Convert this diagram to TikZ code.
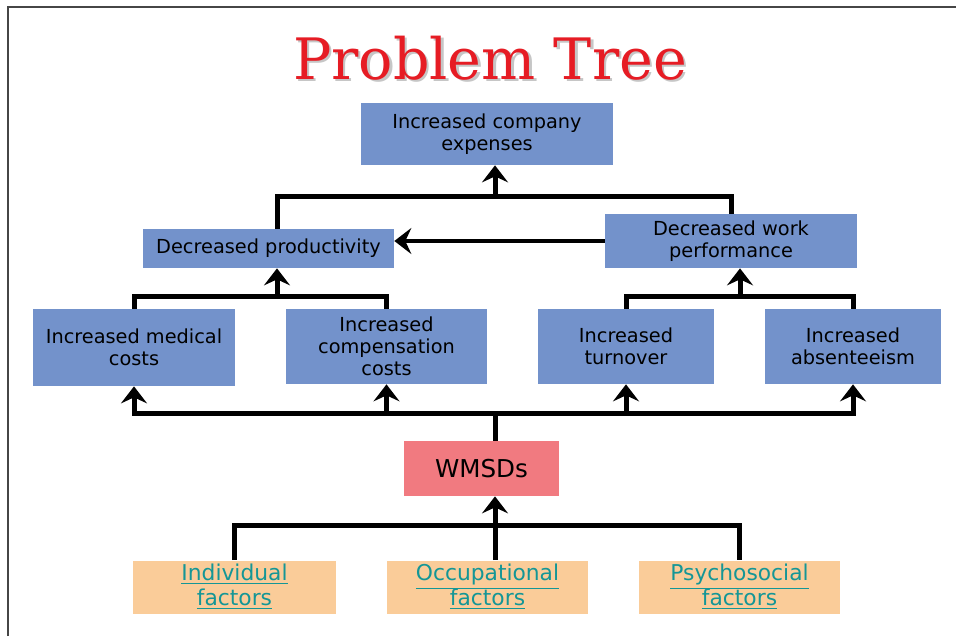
\documentclass[tikz,border=0pt]{standalone}
\usepackage{fontspec}
\usepackage{xcolor}
\usepackage{tikz}
\usetikzlibrary{arrows.meta}
\setmainfont{DejaVu Sans}
\newfontfamily\titlefont{DejaVu Serif}
\definecolor{boxblue}{RGB}{115, 146, 203}
\definecolor{wmsdred}{RGB}{241, 122, 128}
\definecolor{factororange}{RGB}{250, 204, 153}
\definecolor{linkteal}{RGB}{20, 150, 150}
\definecolor{titlered}{RGB}{230, 28, 36}
\definecolor{framegray}{RGB}{70, 70, 70}
\newcommand{\factorline}[1]{\textcolor{linkteal}{\underline{#1}}}

\tikzset{
    bluebox/.style={rectangle, fill=boxblue, inner sep=0pt, align=center, font=\fontsize{11}{12.5}\selectfont},
    causebox/.style={rectangle, fill=factororange, inner sep=0pt, align=center, text=linkteal, font=\fontsize{12.4}{14.2}\selectfont},
    link/.style={line width=0.1cm, line join=miter, black},
    arrowlink/.style={link, -{Stealth[length=0.34cm, width=0.52cm, inset=0.12cm]}}
}

\begin{document}
\begin{tikzpicture}[x=0.02cm, y=-0.02cm]
    \useasboundingbox (0,0) rectangle (956,636);
    \fill[white] (0,0) rectangle (956,636);
    \draw[framegray, line width=0.04cm] (8,636) -- (8,7) -- (956,7);

    % title with shadow
    \node[text=gray!45, font=\titlefont\fontsize{32.5}{36}\selectfont] at (492.5,60.5) {Problem Tree};
    \node[text=titlered, font=\titlefont\fontsize{32.5}{36}\selectfont] (title) at (490,58) {Problem Tree};

    % effects
    \node[bluebox, minimum width=5.04cm, minimum height=1.24cm] (expenses) at (487,134) {Increased company\\expenses};
    \node[bluebox, minimum width=5.02cm, minimum height=0.78cm] (productivity) at (268.5,248.5) {Decreased productivity};
    \node[bluebox, minimum width=5.04cm, minimum height=1.08cm] (performance) at (731,241) {Decreased work\\performance};
    \node[bluebox, minimum width=4.04cm, minimum height=1.54cm] (medical) at (134,347.5) {Increased medical\\costs};
    \node[bluebox, minimum width=4.02cm, minimum height=1.5cm] (compensation) at (386.5,346.5) {Increased\\compensation\\costs};
    \node[bluebox, minimum width=3.52cm, minimum height=1.5cm] (turnover) at (626,346.5) {Increased\\turnover};
    \node[bluebox, minimum width=3.52cm, minimum height=1.5cm] (absenteeism) at (853,346.5) {Increased\\absenteeism};

    % core problem
    \node[rectangle, fill=wmsdred, inner sep=0pt, minimum width=3.1cm, minimum height=1.1cm, font=\fontsize{14}{16}\selectfont] (wmsds) at (481.5,468.5) {WMSDs};

    % causes
    \node[causebox, minimum width=4.06cm, minimum height=1.06cm] (individual) at (234.5,587) {\factorline{Individual}\\\factorline{factors}};
    \node[causebox, minimum width=4.02cm, minimum height=1.06cm] (occupational) at (487.5,587) {\factorline{Occupational}\\\factorline{factors}};
    \node[causebox, minimum width=4.02cm, minimum height=1.06cm] (psychosocial) at (739.5,587) {\factorline{Psychosocial}\\\factorline{factors}};

    % junctions
    \coordinate (jcause) at (495,525);
    \coordinate (jcore) at (495,413);
    \coordinate (jprod) at (277,296);
    \coordinate (jperf) at (740,296);
    \coordinate (jexp) at (495,196);

    % causes -> WMSDs
    \draw[link] (individual.north) |- (jcause) -| (psychosocial.north);
    \draw[arrowlink] (jcause |- occupational.north) -- (jcause |- wmsds.south);

    % WMSDs -> effects
    \draw[link] (jcore |- wmsds.north) -- (jcore);
    \draw[arrowlink] (jcore) -| (medical.south);
    \draw[arrowlink] (jcore) -| (absenteeism.south);
    \draw[arrowlink] (compensation.south |- jcore) -- (compensation.south);
    \draw[arrowlink] (turnover.south |- jcore) -- (turnover.south);

    % effects -> productivity / performance
    \draw[link] (medical.north) |- (jprod) -| (compensation.north);
    \draw[arrowlink] (jprod) -- (jprod |- productivity.south);
    \draw[link] (turnover.north) |- (jperf) -| (absenteeism.north);
    \draw[arrowlink] (jperf) -- (jperf |- performance.south);

    % productivity / performance -> expenses
    \draw[link] (jprod |- productivity.north) |- (jexp) -| (performance.north);
    \draw[arrowlink] (jexp) -- (jexp |- expenses.south);
    \draw[arrowlink, line width=0.08cm] (performance.west) -- (performance.west -| productivity.east);
\end{tikzpicture}
\end{document}
